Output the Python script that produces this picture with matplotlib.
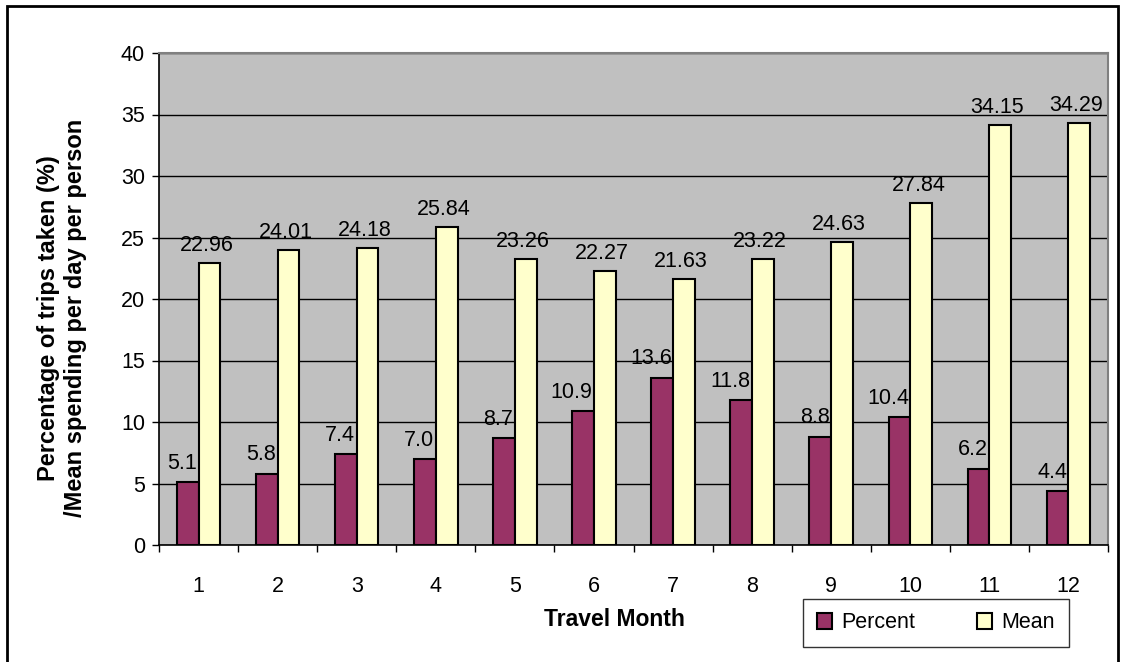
import numpy as np
import matplotlib
matplotlib.use("Agg")
import matplotlib.pyplot as plt
from matplotlib.patches import Rectangle

plt.rcParams['font.family'] = ['Liberation Sans', 'DejaVu Sans']

months = ['1', '2', '3', '4', '5', '6', '7', '8', '9', '10', '11', '12']
percent = [5.1, 5.8, 7.4, 7.0, 8.7, 10.9, 13.6, 11.8, 8.8, 10.4, 6.2, 4.4]
mean = [22.96, 24.01, 24.18, 25.84, 23.26, 22.27, 21.63, 23.22, 24.63, 27.84, 34.15, 34.29]

fs = 15.5

fig = plt.figure(figsize=(11.25, 6.62), dpi=100)
ax = fig.add_axes([159/1125, 1 - 545/662, (1108 - 159)/1125, (545 - 53)/662])

x = np.arange(len(months))
w = 0.275
b1 = ax.bar(x - w/2, percent, w, color='#993366', edgecolor='black', lw=1.5,
            label='Percent', zorder=3)
b2 = ax.bar(x + w/2, mean, w, color='#FFFFCC', edgecolor='black', lw=1.5,
            label='Mean', zorder=3)

for xi, v in zip(x, percent):
    ax.annotate('%.1f' % v, (xi, v), xytext=(-1, 6), textcoords='offset points',
                ha='right', va='bottom', fontsize=fs)
for xi, v in zip(x, mean):
    ax.annotate('%.2f' % v, (xi + w/2, v), xytext=(-2, 5), textcoords='offset points',
                ha='center', va='bottom', fontsize=fs)

ax.set_facecolor('#C0C0C0')
ax.set_xlim(-0.5, len(months) - 0.5)
ax.set_ylim(0, 40)
ax.set_yticks(np.arange(0, 41, 5))
ax.yaxis.grid(True, color='black', lw=1)
ax.set_axisbelow(True)
ax.set_xticks(x)
ax.set_xticklabels(months)
ax.set_xticks(np.arange(-0.5, len(months)), minor=True)
ax.tick_params(axis='x', which='major', length=0, pad=22, labelsize=fs)
ax.tick_params(axis='x', which='minor', length=5, width=1)
ax.tick_params(axis='y', length=5, width=1, pad=5, labelsize=fs)

for s in ['top', 'right']:
    ax.spines[s].set_color('#808080')
    ax.spines[s].set_linewidth(1.5)
for s in ['left', 'bottom']:
    ax.spines[s].set_color('black')
    ax.spines[s].set_linewidth(1.2)

fig.text(62/1125, 1 - 318/662, 'Percentage of trips taken (%)\n/Mean spending per day per person',
         rotation=90, ha='center', va='center', fontsize=17, fontweight='bold',
         linespacing=1.2)
fig.text(614/1125, 1 - 620/662, 'Travel Month', ha='center', va='center',
         fontsize=16.5, fontweight='bold')

leg = fig.legend(handles=[b1, b2], loc='center', ncol=2,
                 bbox_to_anchor=(936/1125, 1 - 623/662), fontsize=fs,
                 frameon=True, fancybox=False, edgecolor='black',
                 handlelength=0.7, handleheight=0.7, columnspacing=2.9,
                 borderpad=0.65, handletextpad=0.4, borderaxespad=0)
leg.get_frame().set_linewidth(1)

fig.patches.append(Rectangle((7/1125, -0.05), (1118 - 7)/1125, 1.05 - 6/662,
                             transform=fig.transFigure, fill=False,
                             edgecolor='black', lw=2))

fig.savefig('out.png', dpi=100)
